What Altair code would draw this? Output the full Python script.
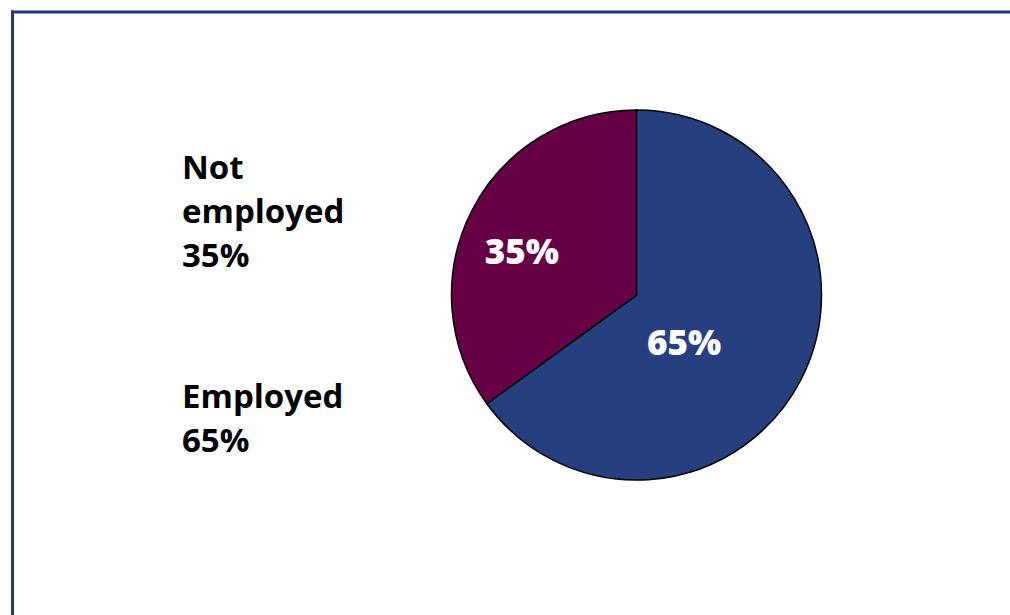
import altair as alt
import pandas as pd

categories = ["Employed", "Not employed"]
values = [65, 35]
inner_labels = ["65%", "35%"]
outer_labels = ["Employed\n65%", "Not\nemployed\n35%"]
colors = ["#253F7F", "#650044"]
order = [1, 2]

df = pd.DataFrame({
    "category": categories,
    "value": values,
    "inner": inner_labels,
    "outer": outer_labels,
    "ord": order,
})

base = alt.Chart(df)
CX, CY = 636.5, 295

pie = base.mark_arc(radius=185, stroke="black", strokeWidth=1.5).encode(
    theta=alt.Theta("value:Q", stack=True),
    order=alt.Order("ord:Q"),
    color=alt.Color("category:N", scale=alt.Scale(domain=categories, range=colors), legend=None),
    x=alt.value(CX),
    y=alt.value(CY),
)

def inner_text(cat, r, dx, dy):
    return base.mark_text(
        radius=r, font="Open Sans", fontWeight=800, fontSize=35, color="white",
        align="center", baseline="middle", dx=dx, dy=dy,
    ).encode(
        theta=alt.Theta("value:Q", stack=True),
        order=alt.Order("ord:Q"),
        text=alt.condition(alt.datum.category == cat, "inner:N", alt.value("")),
        x=alt.value(CX),
        y=alt.value(CY),
    )

t65 = inner_text("Employed", 67, -12, 19)
t35 = inner_text("Not employed", 122, -6, 13)

def outer_text(cat, ybase):
    return base.transform_filter(alt.datum.category == cat).mark_text(
        font="Open Sans", fontWeight="bold", fontSize=33, color="black",
        align="left", baseline="alphabetic", lineBreak="\n", lineHeight=44,
    ).encode(
        text="outer:N",
        x=alt.value(182),
        y=alt.value(ybase),
    )

o_not = outer_text("Not employed", 179)
o_emp = outer_text("Employed", 408)

frame_data = alt.Data(values=[{"a": 1}])
top_rule = alt.Chart(frame_data).mark_rule(color="#22397A", strokeWidth=3).encode(
    x=alt.value(11), x2=alt.value(1010), y=alt.value(12)
)
left_rule = alt.Chart(frame_data).mark_rule(color="#22397A", strokeWidth=3).encode(
    x=alt.value(12.5), y=alt.value(10.5), y2=alt.value(615)
)

chart = alt.layer(top_rule, left_rule, pie, t65, t35, o_not, o_emp).properties(
    width=1010, height=615, padding=0, autosize=alt.AutoSizeParams(type="none"),
    background="white",
).configure_view(stroke=None)

chart.save("out.html", embed_options={"renderer": "svg", "actions": False})
